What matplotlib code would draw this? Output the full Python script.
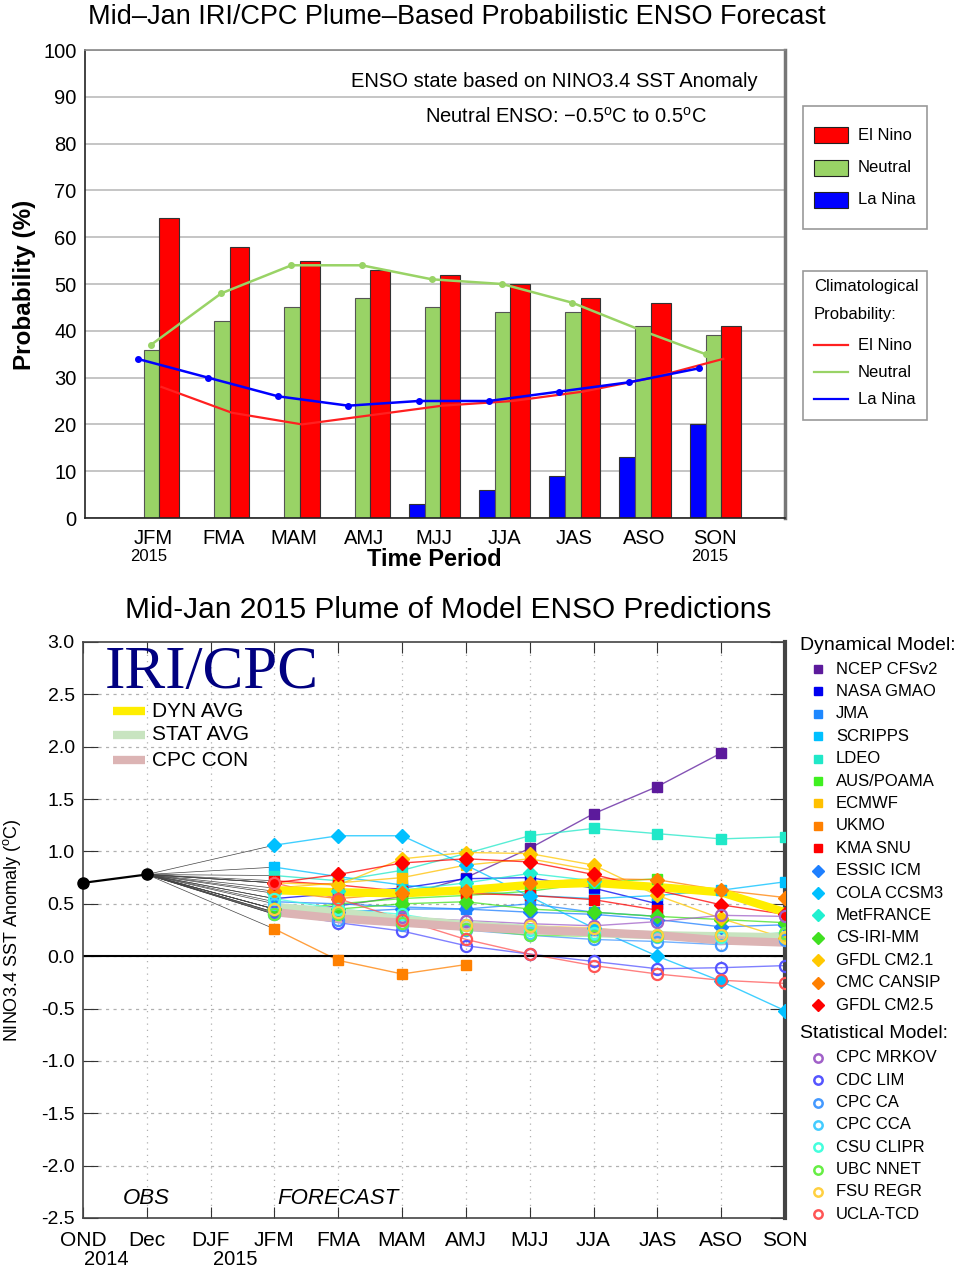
import matplotlib
matplotlib.use('Agg')
import matplotlib.pyplot as plt
import numpy as np
from matplotlib.patches import Rectangle
from matplotlib.lines import Line2D

plt.rcParams['font.family'] = ['Liberation Sans', 'DejaVu Sans']
plt.rcParams['mathtext.fontset'] = 'custom'
plt.rcParams['mathtext.rm'] = 'Liberation Sans'

# ---------------- top chart data ----------------
seasons = ['JFM', 'FMA', 'MAM', 'AMJ', 'MJJ', 'JJA', 'JAS', 'ASO', 'SON']
el_nino = [64, 58, 55, 53, 52, 50, 47, 46, 41]
neutral = [36, 42, 45, 47, 45, 44, 44, 41, 39]
la_nina = [0, 0, 0, 0, 3, 6, 9, 13, 20]
clim_el_nino = [28, 22.5, 20, 22, 24, 25, 27, 30, 34]
clim_neutral = [37, 48, 54, 54, 51, 50, 46, 40, 35]
clim_la_nina = [34, 30, 26, 24, 25, 25, 27, 29, 32]

# ---------------- plume data ----------------
months = ['OND', 'Dec', 'DJF', 'JFM', 'FMA', 'MAM', 'AMJ', 'MJJ', 'JJA', 'JAS', 'ASO', 'SON']
obs = [0.70, 0.78]

dyn_names = ['NCEP CFSv2', 'NASA GMAO', 'JMA', 'SCRIPPS', 'LDEO', 'AUS/POAMA', 'ECMWF', 'UKMO',
             'KMA SNU', 'ESSIC ICM', 'COLA CCSM3', 'MetFRANCE', 'CS-IRI-MM', 'GFDL CM2.1',
             'CMC CANSIP', 'GFDL CM2.5']
dyn_colors = ['#5c1a9c', '#0000f0', '#1e88ff', '#00c0ff', '#20e8c8', '#40f020', '#ffc000', '#ff8000',
              '#ff0000', '#1e7fff', '#00c0ff', '#20f0d0', '#40e020', '#ffc800', '#ff8000', '#ff0000']
dyn_markers = ['s'] * 9 + ['D'] * 7
dyn_values = [
    [0.41, 0.48, 0.57, 0.75, 1.03, 1.36, 1.62, 1.94],
    [0.55, 0.60, 0.65, 0.74, 0.75, 0.65, 0.50],
    [0.52, 0.50, 0.47, 0.45, 0.50, 0.42, 0.38],
    [0.85, 0.76, 0.68, 0.62, 0.58, 0.55, 0.58, 0.63, 0.71],
    [0.77, 0.72, 0.82, 0.98, 1.15, 1.22, 1.17, 1.12, 1.14],
    [0.42, 0.50, 0.55, 0.58, 0.62, 0.70, 0.74],
    [0.65, 0.70, 0.75, 0.87, 0.93, 0.82],
    [0.26, -0.04, -0.17, -0.08],
    [0.72, 0.68, 0.62, 0.60, 0.58, 0.54, 0.44],
    [0.45, 0.42, 0.45, 0.45, 0.42, 0.40, 0.35, 0.28, 0.30],
    [1.06, 1.15, 1.15, 0.87, 0.57, 0.27, 0.00, -0.24, -0.52],
    [0.60, 0.62, 0.63, 0.70, 0.79, 0.72],
    [0.45, 0.45, 0.50, 0.52, 0.45, 0.42, 0.38, 0.35, 0.32],
    [0.70, 0.68, 0.93, 0.99, 0.98, 0.87, 0.58, 0.36, 0.17],
    [0.62, 0.55, 0.60, 0.62, 0.70, 0.74, 0.73, 0.63, 0.56],
    [0.70, 0.78, 0.89, 0.93, 0.90, 0.78, 0.63, 0.49, 0.40],
]

stat_names = ['CPC MRKOV', 'CDC LIM', 'CPC CA', 'CPC CCA', 'CSU CLIPR', 'UBC NNET', 'FSU REGR', 'UCLA-TCD']
stat_colors = ['#a060c8', '#5555ff', '#4499ff', '#44ccff', '#44ffdd', '#66ee44', '#ffd040', '#ff5555']
stat_values = [
    [0.45, 0.42, 0.37, 0.34, 0.31, 0.29, 0.33, 0.39, 0.38],
    [0.42, 0.32, 0.24, 0.10, 0.02, -0.05, -0.12, -0.11, -0.09],
    [0.40, 0.35, 0.30, 0.25, 0.20, 0.16, 0.14, 0.11, 0.15],
    [0.50, 0.45, 0.35, 0.30, 0.22, 0.20, 0.18, 0.20, 0.22],
    [0.55, 0.45, 0.40, 0.30, 0.25, 0.22, 0.20, 0.18, 0.18],
    [0.40, 0.40, 0.32, 0.26, 0.20, 0.19, 0.19, 0.20, 0.22],
    [0.45, 0.42, 0.35, 0.30, 0.29, 0.27, 0.20, 0.20, 0.18],
    [0.70, 0.55, 0.35, 0.16, 0.02, -0.09, -0.17, -0.23, -0.26],
]

dyn_avg = [0.63, 0.61, 0.60, 0.63, 0.68, 0.70, 0.66, 0.61, 0.42]
stat_avg = [0.47, 0.42, 0.35, 0.30, 0.26, 0.22, 0.20, 0.19, 0.18]
cpc_con = [0.42, 0.36, 0.32, 0.28, 0.25, 0.23, 0.20, 0.15, 0.13]
avg_names = ['DYN AVG', 'STAT AVG', 'CPC CON']
avg_colors = ['#ffee00', '#c8e4c0', '#dcb4b4']

W, H = 963, 1272
fig = plt.figure(figsize=(W / 100, H / 100), dpi=100)

def fx(px):
    return px / W

def fy(py):
    return 1 - py / H

# ================= TOP: probabilistic forecast =================
ax1 = fig.add_axes([fx(85), fy(518), 700 / W, 468 / H])
x = np.arange(1, len(seasons) + 1)
ax1.bar(x - 0.245, la_nina, width=0.23, color='#0000ff', edgecolor='#333333', linewidth=0.8, zorder=2)
ax1.bar(x - 0.02, neutral, width=0.22, color='#99d366', edgecolor='#555555', linewidth=0.8, zorder=2)
ax1.bar(x + 0.23, el_nino, width=0.28, color='#ff0000', edgecolor='#333333', linewidth=0.8, zorder=2)

xg = x - 0.03
xg[-1] = x[-1] - 0.13
ax1.plot(x + 0.12, clim_el_nino, color='#ff2020', lw=1.6, zorder=3)
ax1.plot(xg, clim_neutral, color='#99d366', lw=1.8, marker='o', ms=4, zorder=3)
ax1.plot(x - 0.22, clim_la_nina, color='#0000ff', lw=1.8, marker='o', ms=4, zorder=4)

ax1.set_xlim(0.03, 10.0)
ax1.set_ylim(0, 100)
ax1.set_yticks(range(0, 101, 10))
ax1.set_xticks(x, seasons)
ax1.tick_params(axis='both', length=0, labelsize=14.5)
ax1.tick_params(axis='x', pad=8)
ax1.tick_params(axis='y', pad=6)
ax1.yaxis.grid(True, color='#bbbbbb', lw=1.2)
ax1.set_axisbelow(True)
for side in ['left', 'bottom', 'top']:
    ax1.spines[side].set_color('#222222')
    ax1.spines[side].set_linewidth(1.2)
ax1.spines['top'].set_color('#888888')
ax1.spines['right'].set_color('#777777')
ax1.spines['right'].set_linewidth(2.5)
for xi in [x[0], x[-1]]:
    ax1.text(xi - 0.07, -8.3, '2015', ha='center', va='center', fontsize=12, clip_on=False)

ax1.text(0.961, 0.932, 'ENSO state based on NINO3.4 SST Anomaly', transform=ax1.transAxes,
         ha='right', va='center', fontsize=14.5)
ax1.text(0.687, 0.857, r'Neutral ENSO: $-$0.5$^{\mathrm{o}}$C to 0.5$^{\mathrm{o}}$C',
         transform=ax1.transAxes, ha='center', va='center', fontsize=14.5)

fig.text(fx(457), fy(17), 'Mid\u2013Jan IRI/CPC Plume\u2013Based Probabilistic ENSO Forecast',
         ha='center', va='center', fontsize=19.5)
fig.text(fx(434), fy(560), 'Time Period', ha='center', va='center', fontsize=17, fontweight='bold')
fig.text(fx(25), fy(285), 'Probability (%)', ha='center', va='center', rotation=90,
         fontsize=17.5, fontweight='bold')

# legend boxes
fig.add_artist(Rectangle((fx(803), fy(229)), 124 / W, 123 / H, fill=False, ec='#999999', lw=1.2))
fig.add_artist(Rectangle((fx(803), fy(420)), 124 / W, 149 / H, fill=False, ec='#999999', lw=1.2))
for k, (lab, col) in enumerate(zip(['El Nino', 'Neutral', 'La Nina'], ['#ff0000', '#99d366', '#0000ff'])):
    yc = 135 + k * 32.5
    fig.add_artist(Rectangle((fx(814), fy(yc + 8)), 34 / W, 16 / H, fc=col, ec='#222222', lw=0.8))
    fig.text(fx(858), fy(yc), lab, va='center', fontsize=12)
fig.text(fx(814), fy(287), 'Climatological', va='center', fontsize=12)
fig.text(fx(814), fy(315), 'Probability:', va='center', fontsize=12)
for k, (lab, col) in enumerate(zip(['El Nino', 'Neutral', 'La Nina'], ['#ff2020', '#99d366', '#0000ff'])):
    yc = 345 + k * 27
    fig.add_artist(Line2D([fx(814), fx(848)], [fy(yc), fy(yc)], color=col, lw=1.6))
    fig.text(fx(858), fy(yc), lab, va='center', fontsize=12)

# ================= BOTTOM: plume =================
ax2 = fig.add_axes([fx(83), fy(1218), 702 / W, 576 / H])
xm = np.arange(len(months))
ax2.set_xlim(0, 11)
ax2.set_ylim(-2.5, 3.0)

for xv in xm[1:-1]:
    ax2.axvline(xv, color='#b0b0b0', lw=0.9, ls=(0, (1, 4)), zorder=1)
for yv in np.arange(-2.0, 3.0, 0.5):
    ax2.axhline(yv, color='#b0b0b0', lw=0.9, ls=(0, (2.5, 3.5)), zorder=1)
ax2.axhline(0, color='black', lw=1.5, zorder=2.5)

all_vals = dyn_values + stat_values
for vals in all_vals:
    ax2.plot([1, 3], [obs[1], vals[0]], color='#444444', lw=0.5, zorder=2)

for vals, col in zip(all_vals, dyn_colors + stat_colors):
    xs = np.arange(3, 3 + len(vals))
    ax2.plot(xs, vals, color=col, lw=1.0, alpha=0.75, zorder=2)

for vals, col in zip([dyn_avg, stat_avg, cpc_con], avg_colors):
    ax2.plot(np.arange(3, 3 + len(vals)), vals, color=col, lw=6, solid_capstyle='butt', zorder=3)

for vals, col, mk in zip(dyn_values, dyn_colors, dyn_markers):
    xs = np.arange(3, 3 + len(vals))
    ax2.plot(xs, vals, ls='none', marker=mk, color=col, ms=7 if mk == 's' else 7.5, zorder=5)
for vals, col in zip(stat_values, stat_colors):
    xs = np.arange(3, 3 + len(vals))
    ax2.plot(xs, vals, ls='none', marker='o', mfc='none', mec=col, ms=8, mew=1.6, zorder=5)

ax2.plot(xm[:2], obs, color='black', lw=1.6, marker='o', ms=8, zorder=6, clip_on=False)

ax2.set_xticks(xm, months)
ax2.set_yticks(np.arange(-2.5, 3.01, 0.5), [f'{v:.1f}' for v in np.arange(-2.5, 3.01, 0.5)])
ax2.tick_params(axis='both', direction='in', top=True, right=True, color='#333333')
ax2.tick_params(axis='x', length=8, pad=9, labelsize=15)
ax2.tick_params(axis='y', length=11, pad=6, labelsize=14)
for side in ['left', 'bottom', 'top']:
    ax2.spines[side].set_color('#444444')
    ax2.spines[side].set_linewidth(1.2)
ax2.spines['right'].set_color('#444444')
ax2.spines['right'].set_linewidth(3)

ax2.text(0.36, -2.9, '2014', ha='center', va='center', fontsize=14.5, clip_on=False)
ax2.text(2.38, -2.9, '2015', ha='center', va='center', fontsize=14.5, clip_on=False)
ax2.text(0.99, -2.31, 'OBS', ha='center', va='center', fontsize=16, style='italic')
ax2.text(4.0, -2.31, 'FORECAST', ha='center', va='center', fontsize=16, style='italic')

ax2.text(0.031, 0.946, 'IRI/CPC', transform=ax2.transAxes, ha='left', va='center',
         fontsize=44, family='Liberation Serif', color='#000080')
for k, (lab, col) in enumerate(zip(avg_names, avg_colors)):
    yy = [0.880, 0.839, 0.795][k]
    ax2.plot([0.043, 0.088], [yy, yy], transform=ax2.transAxes, color=col, lw=6, solid_capstyle='butt')
    ax2.text(0.098, yy, lab, transform=ax2.transAxes, va='center', fontsize=15)

fig.text(fx(448), fy(610), 'Mid-Jan 2015 Plume of Model ENSO Predictions', ha='center', va='center',
         fontsize=21.5)
fig.text(fx(12), fy(930), 'NINO3.4 SST Anomaly ($^{\\mathrm{o}}$C)', ha='center', va='center',
         rotation=90, fontsize=13)

# model legend
fig.text(fx(800), fy(645), 'Dynamical Model:', va='center', fontsize=14)
for k, (name, col, mk) in enumerate(zip(dyn_names, dyn_colors, dyn_markers)):
    yc = fy(669 + k * 22.4)
    fig.add_artist(Line2D([fx(818)], [yc], ls='none', marker=mk, color=col, ms=5.5 if mk == 's' else 6.5))
    fig.text(fx(836), yc, name, va='center', fontsize=12)
fig.text(fx(800), fy(1033), 'Statistical Model:', va='center', fontsize=14)
for k, (name, col) in enumerate(zip(stat_names, stat_colors)):
    yc = fy(1058 + k * 22.3)
    fig.add_artist(Line2D([fx(818)], [yc], ls='none', marker='o', mfc='none', mec=col, ms=6, mew=1.8))
    fig.text(fx(836), yc, name, va='center', fontsize=12)

fig.savefig('out.png', dpi=100)
